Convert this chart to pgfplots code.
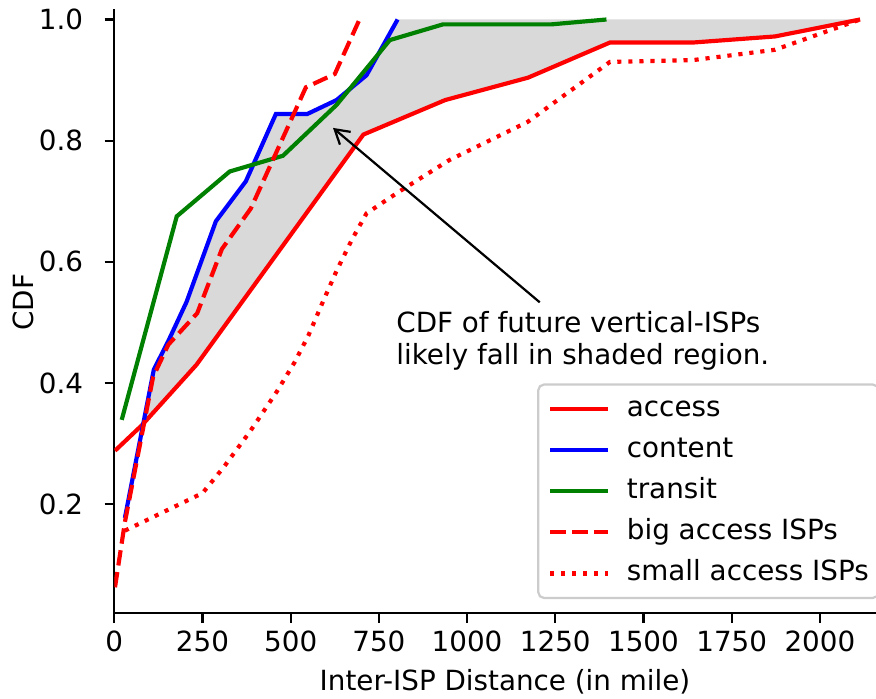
\documentclass[border=0pt]{standalone}
\usepackage{fontspec}
\setmainfont{DejaVu Sans}
\usepackage{pgfplots}
\pgfplotsset{compat=1.18}
\usetikzlibrary{arrows.meta}
\definecolor{shade}{RGB}{217,217,217}
\definecolor{legframe}{RGB}{204,204,204}
\definecolor{mplgreen}{RGB}{0,128,0}
\begin{document}
\begin{tikzpicture}
\begin{axis}[
    scale only axis,
    width=281.3pt, height=217.44pt,
    xmin=0, xmax=2215, ymin=0.0195, ymax=1.0168,
    axis x line*=bottom, axis y line*=left,
    axis line style={-, line width=0.8pt},
    tick align=outside, major tick length=3.5pt,
    tick style={line width=0.8pt, black},
    xtick={0,250,...,2000},
    ytick={0.2,0.4,0.6,0.8,1.0},
    font=\fontsize{10}{12}\selectfont,
    ticklabel style={font=\fontsize{10}{12}\selectfont, inner sep=0pt},
    /pgf/number format/assume math mode=true,
    xticklabel style={/pgf/number format/1000 sep={}, anchor=base, yshift=-10.1pt},
    yticklabel style={/pgf/number format/.cd, fixed, fixed zerofill, precision=1, /tikz/.cd, anchor=east, xshift=-7.56pt},
    xlabel={Inter-ISP Distance (in mile)},
    ylabel={CDF},
    every axis x label/.style={at={(axis description cs:0.5,0)}, anchor=base, yshift=-27.8pt, inner sep=0pt},
    every axis y label/.style={at={(axis description cs:0,0.5154)}, xshift=-29.16pt, rotate=90, anchor=base, inner sep=0pt},
    legend style={at={(0.5412,0.0237)}, anchor=south west, draw=legframe, line width=0.8pt,
        rounded corners=2pt, fill=white, inner xsep=3.5pt, inner ysep=4.1pt, row sep=5.4pt,
        column sep=5.9pt,
        font=\fontsize{10}{12}\selectfont,
        nodes={inner sep=0pt, text height=7.3pt, text depth=2.1pt}},
    legend cell align=left,
    legend image code/.code={\draw[#1, line width=1.5pt] (0pt,0pt) -- (21pt,0pt);},
]

% shaded region between content and access
\addplot[draw=none, fill=shade, forget plot] coordinates {
    (85,0.335) (112,0.422) (153,0.469) (205,0.534) (288,0.667) (373,0.733)
    (458,0.844) (547,0.844) (630,0.867) (715,0.908) (803,1.0) (2114,1.0)
    (1873,0.972) (1641,0.962) (1405,0.962) (1173,0.904) (938,0.867)
    (706,0.81) (233,0.43) (85,0.335)};

\addplot[color=red, line width=1.5pt] coordinates {
    (2,0.288) (78,0.33) (233,0.43) (706,0.81) (938,0.867) (1173,0.904)
    (1405,0.962) (1641,0.962) (1873,0.972) (2114,1.0)};
\addlegendentry{access}

\addplot[color=blue, line width=1.5pt] coordinates {
    (30,0.177) (112,0.422) (153,0.469) (205,0.534) (288,0.667) (373,0.733)
    (458,0.844) (547,0.844) (630,0.867) (715,0.908) (803,1.0)};
\addlegendentry{content}

\addplot[color=mplgreen, line width=1.5pt] coordinates {
    (21,0.339) (177,0.675) (327,0.749) (478,0.775) (630,0.859) (781,0.966)
    (932,0.992) (1240,0.992) (1395,1.0)};
\addlegendentry{transit}

\addplot[color=red, line width=1.5pt, dash pattern=on 5.55pt off 2.4pt] coordinates {
    (2,0.0625) (30,0.17) (110,0.41) (153,0.463) (235,0.515) (305,0.621)
    (387,0.688) (543,0.888) (625,0.91) (695,1.0)};
\addlegendentry{big access ISPs}

\addplot[color=red, line width=1.5pt, dash pattern=on 1.5pt off 2.475pt] coordinates {
    (30,0.156) (250,0.218) (309,0.26) (385,0.32) (460,0.385) (512,0.435)
    (550,0.478) (592,0.535) (630,0.585) (673,0.636) (715,0.68) (808,0.716)
    (950,0.768) (1172,0.831) (1405,0.93) (1641,0.933) (1873,0.95) (2114,1.0)};
\addlegendentry{small access ISPs}

\draw[-{Straight Barb[length=5pt,width=6pt]}, line width=0.8pt]
    (axis cs:1206,0.533) -- (axis cs:620,0.821);
\node[anchor=base west, inner sep=0pt] at (axis cs:798,0.483) {CDF of future vertical-ISPs};
\node[anchor=base west, inner sep=0pt] at (axis cs:798,0.430) {likely fall in shaded region.};
\end{axis}
\pgfresetboundingbox
\path[use as bounding box] (-41.15pt,-30.49pt) rectangle (274.2pt,220.8pt);
\end{tikzpicture}
\end{document}
